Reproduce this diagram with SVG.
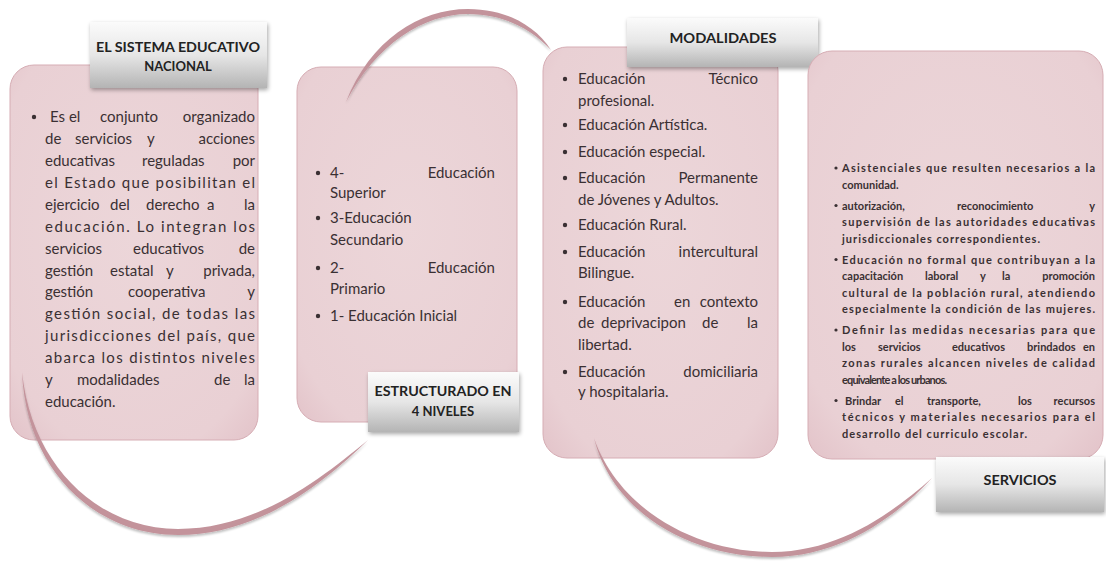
<svg xmlns="http://www.w3.org/2000/svg" width="1106" height="562" viewBox="0 0 1106 562">
<style>
.box{fill:url(#boxg);stroke:#d6adb4;stroke-width:1}
.lab{fill:url(#labg);filter:url(#sh)}
.t{font-family:Lato,"Open Sans",sans-serif;font-size:15px;fill:#3a3033}
.s{font-family:Lato,"Open Sans",sans-serif;font-size:11px;font-weight:bold;fill:#3a3033}
.e{text-anchor:end}
.l{font-family:Lato,"Liberation Sans",sans-serif;font-weight:bold;font-size:13px;fill:#222;text-anchor:middle}
.b{fill:#3a3033}
.arc{fill:#c3939b;filter:url(#ash)}
</style>
<defs>
<linearGradient id="labg" x1="0" y1="0" x2="0" y2="1">
<stop offset="0" stop-color="#fbfbfb"/>
<stop offset="0.5" stop-color="#e6e6e6"/>
<stop offset="1" stop-color="#b4b4b4"/>
</linearGradient>
<radialGradient id="boxg" cx="0.5" cy="0.45" r="0.75">
<stop offset="0" stop-color="#ecd6d9"/>
<stop offset="0.8" stop-color="#e9d0d4"/>
<stop offset="1" stop-color="#e2c2c8"/>
</radialGradient>
<filter id="sh" x="-10%" y="-10%" width="125%" height="135%">
<feGaussianBlur in="SourceAlpha" stdDeviation="2"/>
<feOffset dx="1" dy="2" result="o"/>
<feComponentTransfer><feFuncA type="linear" slope="0.35"/></feComponentTransfer>
<feMerge><feMergeNode/><feMergeNode in="SourceGraphic"/></feMerge>
</filter>
<filter id="ash" x="-10%" y="-20%" width="120%" height="140%">
<feGaussianBlur in="SourceAlpha" stdDeviation="1.2"/>
<feOffset dx="0" dy="1.5"/>
<feComponentTransfer><feFuncA type="linear" slope="0.25"/></feComponentTransfer>
<feMerge><feMergeNode/><feMergeNode in="SourceGraphic"/></feMerge>
</filter>
</defs>
<rect width="1106" height="562" fill="#ffffff"/>

<g id="node-sistema">
<rect class="box" x="10" y="65" width="248" height="375" rx="24"/>
<circle class="b" cx="34" cy="117" r="2.2"/>
<text class="t" x="50" y="122">Es el</text><text class="t" x="100" y="122">conjunto</text><text class="t e" x="255" y="122">organizado</text>
<text class="t" x="45" y="144">de</text><text class="t" x="75" y="144">servicios</text><text class="t" x="147" y="144">y</text><text class="t e" x="255" y="144">acciones</text>
<text class="t" x="45" y="166">educativas</text><text class="t" x="142" y="166">reguladas</text><text class="t e" x="255" y="166">por</text>
<text class="t" x="45" y="188" textLength="210" lengthAdjust="spacing">el Estado que posibilitan el</text>
<text class="t" x="45" y="210">ejercicio</text><text class="t" x="110" y="210">del</text><text class="t" x="146" y="210">derecho</text><text class="t" x="207" y="210">a</text><text class="t e" x="255" y="210">la</text>
<text class="t" x="45" y="231.5" textLength="210" lengthAdjust="spacing">educación. Lo integran los</text>
<text class="t" x="45" y="253.5">servicios</text><text class="t" x="133" y="253.5">educativos</text><text class="t e" x="255" y="253.5">de</text>
<text class="t" x="45" y="275.5">gestión</text><text class="t" x="110" y="275.5">estatal</text><text class="t" x="166" y="275.5">y</text><text class="t e" x="255" y="275.5">privada,</text>
<text class="t" x="45" y="297">gestión</text><text class="t" x="128" y="297">cooperativa</text><text class="t e" x="255" y="297">y</text>
<text class="t" x="45" y="319" textLength="210" lengthAdjust="spacing">gestión social, de todas las</text>
<text class="t" x="45" y="341" textLength="210" lengthAdjust="spacing">jurisdicciones del país, que</text>
<text class="t" x="45" y="363" textLength="210" lengthAdjust="spacing">abarca los distintos niveles</text>
<text class="t" x="45" y="385">y</text><text class="t" x="77" y="385">modalidades</text><text class="t" x="214" y="385">de</text><text class="t e" x="255" y="385">la</text>
<text class="t" x="45" y="407">educación.</text>
<rect class="lab" x="90" y="22" width="177" height="66"/>
<text class="l" x="178" y="52" textLength="164" lengthAdjust="spacingAndGlyphs">EL SISTEMA EDUCATIVO</text>
<text class="l" x="178" y="71">NACIONAL</text>
</g>

<g id="node-niveles">
<rect class="box" x="297" y="67" width="220" height="355" rx="24"/>
<circle class="b" cx="318" cy="173" r="2.2"/>
<circle class="b" cx="318" cy="218" r="2.2"/>
<circle class="b" cx="318" cy="268" r="2.2"/>
<circle class="b" cx="318" cy="316" r="2.2"/>
<text class="t" x="330" y="178">4-</text><text class="t e" x="495" y="178">Educación</text>
<text class="t" x="330" y="198">Superior</text>
<text class="t" x="330" y="223">3-Educación</text>
<text class="t" x="330" y="245">Secundario</text>
<text class="t" x="330" y="273">2-</text><text class="t e" x="495" y="273">Educación</text>
<text class="t" x="330" y="294">Primario</text>
<text class="t" x="330" y="321">1- Educación Inicial</text>
<rect class="lab" x="368" y="372" width="151" height="60"/>
<text class="l" x="443" y="396" textLength="137" lengthAdjust="spacingAndGlyphs">ESTRUCTURADO EN</text>
<text class="l" x="443" y="416">4 NIVELES</text>
</g>

<g id="node-modalidades">
<rect class="box" x="543" y="47" width="235" height="411" rx="24"/>
<circle class="b" cx="565" cy="79" r="2.2"/>
<circle class="b" cx="565" cy="125" r="2.2"/>
<circle class="b" cx="565" cy="152" r="2.2"/>
<circle class="b" cx="565" cy="178" r="2.2"/>
<circle class="b" cx="565" cy="225" r="2.2"/>
<circle class="b" cx="565" cy="252" r="2.2"/>
<circle class="b" cx="565" cy="302" r="2.2"/>
<circle class="b" cx="565" cy="372" r="2.2"/>
<text class="t" x="578" y="84">Educación</text><text class="t e" x="758" y="84">Técnico</text>
<text class="t" x="578" y="106">profesional.</text>
<text class="t" x="578" y="130">Educación Artística.</text>
<text class="t" x="578" y="157">Educación especial.</text>
<text class="t" x="578" y="183">Educación</text><text class="t e" x="758" y="183">Permanente</text>
<text class="t" x="578" y="205">de Jóvenes y Adultos.</text>
<text class="t" x="578" y="230">Educación Rural.</text>
<text class="t" x="578" y="257">Educación</text><text class="t e" x="758" y="257">intercultural</text>
<text class="t" x="578" y="278">Bilingue.</text>
<text class="t" x="578" y="307">Educación</text><text class="t" x="674" y="307">en</text><text class="t e" x="758" y="307">contexto</text>
<text class="t" x="578" y="328">de</text><text class="t" x="601" y="328">deprivacipon</text><text class="t" x="702" y="328">de</text><text class="t e" x="758" y="328">la</text>
<text class="t" x="578" y="350">libertad.</text>
<text class="t" x="578" y="377">Educación</text><text class="t e" x="758" y="377">domiciliaria</text>
<text class="t" x="578" y="397">y hospitalaria.</text>
<rect class="lab" x="627" y="18" width="191" height="49"/>
<text class="l" x="723" y="43" textLength="107" lengthAdjust="spacingAndGlyphs">MODALIDADES</text>
</g>

<g id="node-servicios">
<rect class="box" x="808" y="51" width="295" height="408" rx="24"/>
<circle class="b" cx="836" cy="168" r="1.6"/>
<circle class="b" cx="836" cy="205.5" r="1.6"/>
<circle class="b" cx="836" cy="259.5" r="1.6"/>
<circle class="b" cx="836" cy="330" r="1.6"/>
<circle class="b" cx="836" cy="400.5" r="1.6"/>
<text class="s" x="842" y="172" textLength="253" lengthAdjust="spacing">Asistenciales que resulten necesarios a la</text>
<text class="s" x="842" y="188.5">comunidad.</text>
<text class="s" x="842" y="209.5">autorización,</text><text class="s" x="957" y="209.5">reconocimiento</text><text class="s e" x="1095" y="209.5">y</text>
<text class="s" x="842" y="226" textLength="253" lengthAdjust="spacing">supervisión de las autoridades educativas</text>
<text class="s" x="842" y="242.5" textLength="198" lengthAdjust="spacing">jurisdiccionales correspondientes.</text>
<text class="s" x="842" y="263.5" textLength="253" lengthAdjust="spacing">Educación no formal que contribuyan a la</text>
<text class="s" x="842" y="280">capacitación</text><text class="s" x="925" y="280">laboral</text><text class="s" x="980" y="280">y</text><text class="s" x="1002" y="280">la</text><text class="s e" x="1095" y="280">promoción</text>
<text class="s" x="842" y="296.5" textLength="253" lengthAdjust="spacing">cultural de la población rural, atendiendo</text>
<text class="s" x="842" y="313" textLength="253" lengthAdjust="spacing">especialmente la condición de las mujeres.</text>
<text class="s" x="842" y="334" textLength="253" lengthAdjust="spacing">Definir las medidas necesarias para que</text>
<text class="s" x="842" y="350.5">los</text><text class="s" x="878" y="350.5">servicios</text><text class="s" x="952" y="350.5">educativos</text><text class="s" x="1027" y="350.5">brindados</text><text class="s e" x="1095" y="350.5">en</text>
<text class="s" x="842" y="367" textLength="253" lengthAdjust="spacing">zonas rurales alcancen niveles de calidad</text>
<text class="s" x="842" y="383.5" textLength="105" lengthAdjust="spacing">equivalente a los urbanos.</text>
<text class="s" x="845" y="404.5">Brindar</text><text class="s" x="895" y="404.5">el</text><text class="s" x="927" y="404.5">transporte,</text><text class="s" x="1018" y="404.5">los</text><text class="s e" x="1095" y="404.5">recursos</text>
<text class="s" x="842" y="421" textLength="253" lengthAdjust="spacing">técnicos y materiales necesarios para el</text>
<text class="s" x="842" y="437.5" textLength="185" lengthAdjust="spacing">desarrollo del curriculo escolar.</text>
<rect class="lab" x="936" y="457" width="168" height="55"/>
<text class="l" x="1020" y="485" textLength="73" lengthAdjust="spacingAndGlyphs">SERVICIOS</text>
</g>

<g id="connectors">
<path class="arc" d="M22,372 C26,470 95,535 178,535 C260,535 325,482 368,440 C322,478 258,529 178,529 C100,529 32,468 22,372 Z"/>
<path class="arc" d="M346,102 C370,40 420,9 468,9 C505,9 535,25 551,50 C532,29 503,14 468,14 C424,14 376,44 346,102 Z"/>
<path class="arc" d="M594,438 C612,512 690,557 772,557 C842,557 898,515 932,478 C895,511 840,552 772,552 C694,552 618,508 594,438 Z"/>
</g>
</svg>
